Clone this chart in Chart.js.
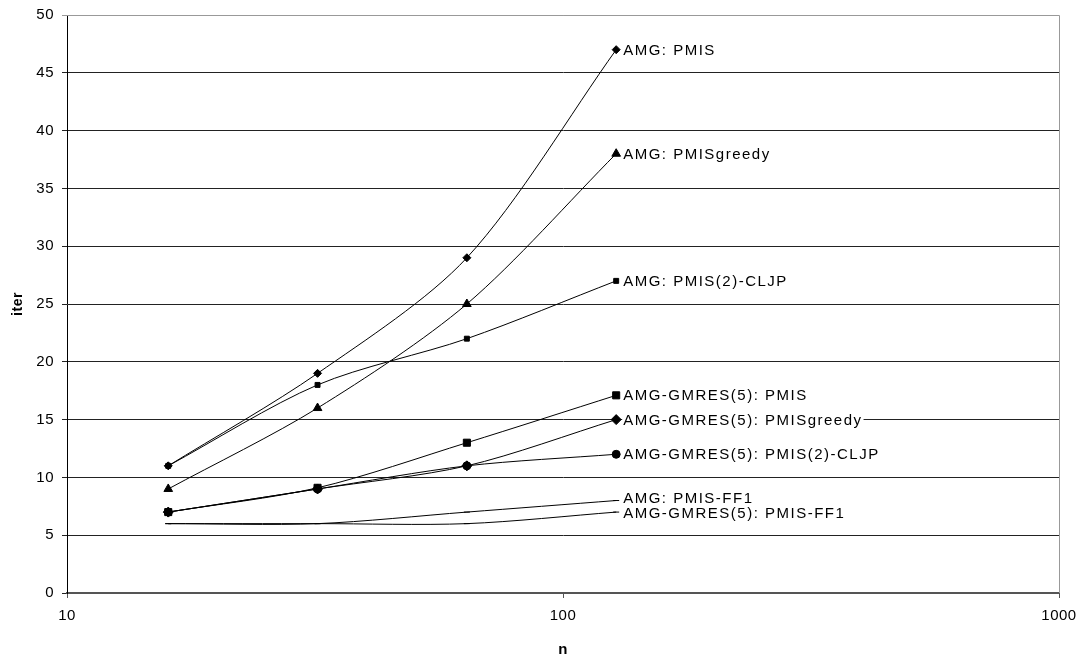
<!DOCTYPE html>
<html>
<head>
<meta charset="utf-8">
<script src="https://cdn.jsdelivr.net/npm/chart.js@4/dist/chart.umd.min.js"></script>
<style>
  html, body { margin: 0; padding: 0; background: #fff; }
  #wrap { width: 1083px; height: 665px; }
</style>
</head>
<body>
<div id="wrap"><canvas id="chart"></canvas></div>
<script>
const nValues = [16, 32, 64, 128];
const xTicks = [10, 100, 1000];

const amgPmis = [11, 19, 29, 47];
const amgGreedy = [9, 16, 25, 38];
const amgCljp = [11, 18, 22, 27];
const gmresPmis = [7, 9.1, 13, 17.1];
const gmresGreedy = [7, 9, 11, 15];
const gmresCljp = [7, 9, 11, 12];
const amgFf1 = [6, 6, 7, 8];
const gmresFf1 = [6, 6, 6, 7];

const labels = [
    'AMG: PMIS', 'AMG: PMISgreedy', 'AMG: PMIS(2)-CLJP',
    'AMG-GMRES(5): PMIS', 'AMG-GMRES(5): PMISgreedy', 'AMG-GMRES(5): PMIS(2)-CLJP',
    'AMG: PMIS-FF1', 'AMG-GMRES(5): PMIS-FF1'
];
const series = [amgPmis, amgGreedy, amgCljp, gmresPmis, gmresGreedy, gmresCljp, amgFf1, gmresFf1];
const markers = [
    ['rectRot', 4], ['triangle', 5], ['rect', 3.5],
    ['rect', 5], ['rectRot', 5], ['circle', 4],
    ['line', 3], ['line', 3]
];
// small vertical nudges so the two FF1 labels don't collide
const labelNudge = [0, 0, 0, 0, 0, 0, -3, 1];

const FONT = '"Liberation Sans", Arial, sans-serif';
const toPoints = vals => vals.map((y, i) => ({ x: nValues[i], y }));

const endLabels = {
    id: 'endLabels',
    afterDatasetsDraw(chart) {
        const ctx = chart.ctx;
        ctx.save();
        ctx.font = '15px ' + FONT;
        ctx.letterSpacing = '1.5px';
        ctx.textBaseline = 'middle';
        const spots = chart.data.datasets.map((ds, i) => {
            const pts = chart.getDatasetMeta(i).data;
            const p = pts[pts.length - 1];
            return { text: ds.label, x: p.x + 7, y: p.y + 1 + labelNudge[i] };
        });
        ctx.fillStyle = '#fff';
        spots.forEach(s => {
            const w = ctx.measureText(s.text).width;
            ctx.fillRect(s.x - 1, s.y - 6, w + 2, 12);
        });
        ctx.fillStyle = '#000';
        spots.forEach(s => ctx.fillText(s.text, s.x, s.y));
        ctx.restore();
    }
};

const frame = {
    id: 'frame',
    beforeDraw(chart) {
        chart.ctx.letterSpacing = '0.5px';
    },
    beforeDatasetsDraw(chart) {
        const { ctx, chartArea: a } = chart;
        ctx.save();
        ctx.strokeStyle = '#999';
        ctx.lineWidth = 1;
        ctx.beginPath();
        ctx.moveTo(a.left, a.top + 0.5);
        ctx.lineTo(a.right + 0.5, a.top + 0.5);
        ctx.lineTo(a.right + 0.5, a.bottom);
        ctx.stroke();
        ctx.restore();
    }
};

const datasets = series.map((vals, i) => ({
    label: labels[i],
    data: toPoints(vals),
    borderColor: '#000',
    backgroundColor: '#000',
    borderWidth: 1,
    tension: 0.3,
    pointStyle: markers[i][0],
    pointRadius: markers[i][1],
    pointBorderWidth: 1,
}));

const ctx = document.getElementById('chart').getContext('2d');
new Chart(ctx, {
    type: 'line',
    data: { datasets },
    options: {
        responsive: true,
        maintainAspectRatio: false,
        animation: false,
        layout: { padding: { top: 15, right: 24, left: 0, bottom: 0 } },
        scales: {
            x: {
                type: 'logarithmic',
                min: 10,
                max: 1000,
                afterBuildTicks: scale => { scale.ticks = xTicks.map(v => ({ value: v })); },
                afterFit: scale => {
                    scale.height = 72;
                    scale.paddingLeft = 0;
                    scale.paddingRight = 0;
                },
                grid: { drawOnChartArea: false, color: '#555', tickLength: 5 },
                border: { color: '#555', width: 2 },
                ticks: {
                    color: '#000',
                    font: { family: FONT, size: 15 },
                    padding: 9,
                    maxRotation: 0,
                    callback: v => String(v)
                },
                title: {
                    display: true,
                    text: 'n',
                    color: '#000',
                    font: { family: FONT, size: 15, weight: 'bold' },
                    padding: { top: 0, bottom: 6 }
                }
            },
            y: {
                min: 0,
                max: 50,
                afterFit: scale => {
                    scale.width = 67;
                    scale.paddingTop = 0;
                    scale.paddingBottom = 0;
                },
                grid: {
                    color: ctx => ctx.tick && ctx.tick.value === 50 ? '#999' : '#222',
                    lineWidth: 1,
                    tickLength: 5
                },
                border: { color: '#000', width: 1 },
                ticks: {
                    stepSize: 5,
                    color: '#000',
                    font: { family: FONT, size: 15 },
                    padding: 8
                },
                title: {
                    display: true,
                    text: 'iter',
                    color: '#000',
                    font: { family: FONT, size: 14, weight: 'bold' },
                    padding: { top: 10, bottom: 0 }
                }
            }
        },
        plugins: {
            legend: { display: false },
            tooltip: { enabled: false }
        }
    },
    plugins: [frame, endLabels]
});
</script>
</body>
</html>
